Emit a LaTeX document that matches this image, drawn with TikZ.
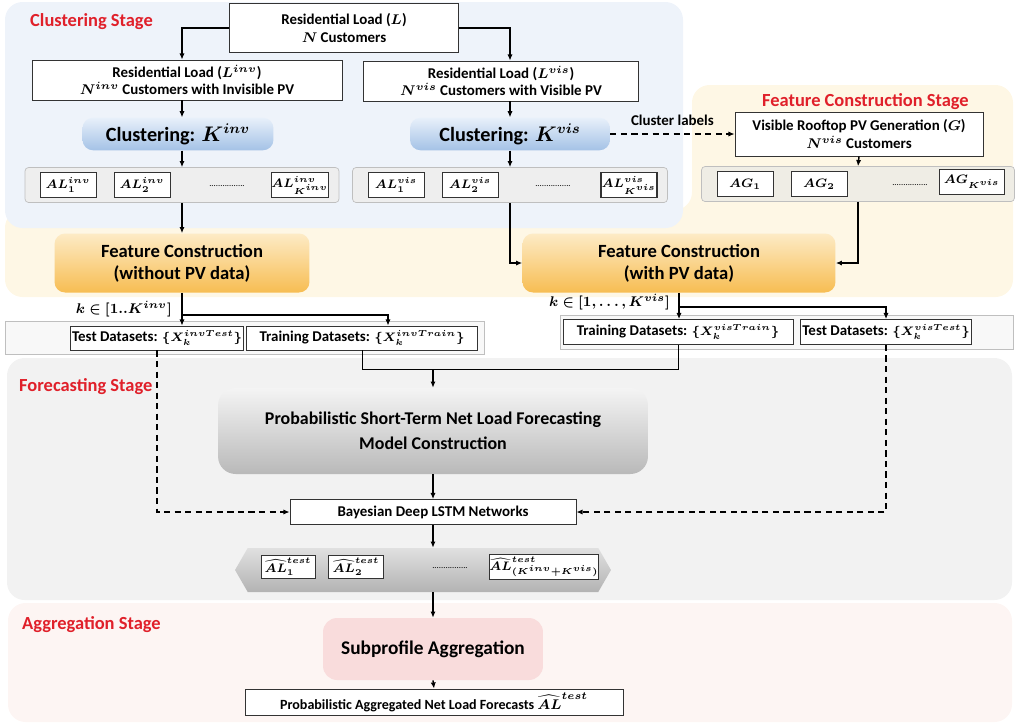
\documentclass[tikz,border=0pt]{standalone}
\usepackage{fontspec}
\setmainfont{Carlito}
\usepackage{amsmath}
\usepackage{bm}
\usepackage{xcolor}
\usetikzlibrary{arrows.meta,shapes.symbols,calc}

\definecolor{stagered}{HTML}{E0202A}
\definecolor{clubg}{HTML}{EEF3FA}
\definecolor{fcbg}{HTML}{FEF7E5}
\definecolor{forbg}{HTML}{F2F2F2}
\definecolor{aggbg}{HTML}{FDF5F3}
\definecolor{stripgray}{HTML}{EEEEEE}
\definecolor{agstrip}{HTML}{EFEDE5}
\definecolor{dsbg}{HTML}{F8F8F8}
\definecolor{cluTop}{HTML}{E8F0FA}
\definecolor{cluBot}{HTML}{A4C2E6}
\definecolor{fcTop}{HTML}{FDEBC6}
\definecolor{fcBot}{HTML}{F7BD52}
\definecolor{mdTop}{HTML}{F4F4F4}
\definecolor{mdBot}{HTML}{B9B9B9}
\definecolor{aggnode}{HTML}{F9DCDC}

% smaller bold math inside the dataset boxes
\newcommand{\smath}[1]{{\fontsize{7}{8}\selectfont$\bm{#1}$}}

\begin{document}
\begin{tikzpicture}[x=0.02cm, y=-0.02cm, font=\bfseries\fontsize{8.5}{10}\selectfont,
  box/.style={draw=black!80, fill=white, align=center, inner sep=1pt, line width=0.5pt},
  cell/.style={draw=black!80, fill=white, inner sep=0pt, minimum width=1.12cm, minimum height=0.5cm, font=\fontsize{7.5}{8}\selectfont},
  strip/.style={draw=black!25, fill=stripgray, rounded corners=2pt, minimum height=0.7cm},
  stage/.style={anchor=west, text=stagered, font=\bfseries\fontsize{10.5}{12}\selectfont},
  big/.style={rounded corners=6pt, align=center, font=\bfseries\fontsize{10.6}{12.5}\selectfont},
  dots/.style={font=\mdseries\fontsize{5}{6}\selectfont},
  arr/.style={-{Latex[length=3.5pt,width=3pt]}, line width=0.8pt},
  dsh/.style={arr, dash pattern=on 3.5pt off 2.5pt}]
\useasboundingbox (0,0) rectangle (1015,725);

% stage panels
\fill[fcbg, rounded corners=10pt] (692,85) -- (1013,85) -- (1013,297) -- (5,297) -- (5,210) -- (692,210) -- cycle;
\fill[clubg, rounded corners=10pt] (5,2) rectangle (683,228);
\fill[forbg, rounded corners=10pt] (7,358) rectangle (1012,600);
\fill[aggbg, rounded corners=10pt] (8,603) rectangle (1012,722);
\filldraw[draw=black!25, fill=dsbg] (5,321) rectangle (484,354);
\filldraw[draw=black!25, fill=dsbg] (560,315) rectangle (1013,349);

\node[stage] (lclu) at (24,22) {Clustering Stage};
\node[stage] (lfc) at (756,102) {Feature Construction Stage};
\node[stage] (lfor) at (13,387) {Forecasting Stage};
\node[stage] (lagg) at (16,625) {Aggregation Stage};

\coordinate (cl) at (182,0);
\coordinate (cr) at (510,0);

% clustering
\node[box, minimum width=4.58cm, minimum height=0.98cm] (rl) at (344,28) {Residential Load ($\bm{L}$)\\$\bm{N}$ Customers};
\node[box, minimum width=6.2cm, minimum height=0.8cm] (rlinv) at (187,80) {Residential Load ($\bm{L^{inv}}$)\\$\bm{N^{inv}}$ Customers with Invisible PV};
\node[box, minimum width=5.5cm, minimum height=0.8cm] (rlvis) at (501,81) {Residential Load ($\bm{L^{vis}}$)\\$\bm{N^{vis}}$ Customers with Visible PV};
\node[big, top color=cluTop, bottom color=cluBot, minimum width=3.82cm, minimum height=0.64cm, font=\bfseries\fontsize{11.5}{13}\selectfont] (clinv) at (178,134) {Clustering: $\bm{K^{inv}}$};
\node[big, top color=cluTop, bottom color=cluBot, minimum width=4cm, minimum height=0.64cm, font=\bfseries\fontsize{11.5}{13}\selectfont] (clvis) at (510,134) {Clustering: $\bm{K^{vis}}$};

\node[strip, minimum width=6.28cm] (alinv) at (182,185) {};
\node[cell] (alinv1) at (68,185) {$\bm{AL^{inv}_1}$};
\node[cell] (alinv2) at (142,185) {$\bm{AL^{inv}_2}$};
\node[dots] (alinvd) at (227,186) {................};
\node[cell, line width=0.8pt, font=\fontsize{7}{8}\selectfont] (alinvk) at (300,185) {$\bm{AL^{inv}_{K^{inv}}}$};

\node[strip, minimum width=6.3cm] (alvis) at (510,185) {};
\node[cell] (alvis1) at (396,185) {$\bm{AL^{vis}_1}$};
\node[cell] (alvis2) at (470,185) {$\bm{AL^{vis}_2}$};
\node[dots] (alvisd) at (553,186) {................};
\node[cell, line width=0.8pt, font=\fontsize{7}{8}\selectfont] (alvisk) at (629,185) {$\bm{AL^{vis}_{K^{vis}}}$};

% PV data
\node[box, minimum width=4.96cm, minimum height=0.88cm] (pvg) at (859,134) {Visible Rooftop PV Generation ($\bm{G}$)\\$\bm{N^{vis}}$ Customers};
\node[strip, fill=agstrip, minimum width=6.26cm] (agstrip) at (858,184) {};
\node[cell] (ag1) at (745,184) {$\bm{AG_1}$};
\node[cell] (ag2) at (819,184) {$\bm{AG_2}$};
\node[dots] (agd) at (910,185) {................};
\node[cell, minimum width=1.3cm, line width=0.8pt] (agk) at (972,182) {$\bm{AG_{K^{vis}}}$};

\node[big, top color=fcTop, bottom color=fcBot, minimum width=5.1cm, minimum height=1.18cm] (fcinv) at (182,263) {Feature Construction\\(without PV data)};
\node[big, top color=fcTop, bottom color=fcBot, minimum width=6.26cm, minimum height=1.18cm] (fcvis) at (679,263) {Feature Construction\\(with PV data)};

\draw[arr] (rl.west) -| (cl |- rlinv.north);
\draw[arr] (rl.east) -| (cr |- rlvis.north);
\draw[arr] (cl |- rlinv.south) -- (cl |- clinv.north);
\draw[arr] (cl |- clinv.south) -- (cl |- alinv.north);
\draw[arr] (cl |- alinv.south) -- (cl |- fcinv.north);
\draw[arr] (cr |- rlvis.south) -- (clvis.north);
\draw[arr] (clvis.south) -- (cr |- alvis.north);
\draw[arr] (cr |- alvis.south) |- (fcvis.west);
\draw[dsh] (clvis.east) -- node[above=1pt, font=\bfseries\fontsize{8.5}{10}\selectfont] (clab) {Cluster labels} (pvg.west);
\draw[arr] (pvg.south) -- (agstrip.north);
\draw[arr] (agstrip.south) |- (fcvis.east);

% datasets
\node[anchor=east, font=\fontsize{8}{9}\selectfont] (kinv) at (178,309) {$\bm{k\in[1..K^{inv}]}$};
\node[anchor=east, font=\fontsize{8}{9}\selectfont] (kvis) at (676,302) {$\bm{k\in[1,\ldots,K^{vis}]}$};
\node[box, minimum width=3.4cm, minimum height=0.48cm] (testinv) at (157,338) {Test Datasets: \smath{\{X^{invTest}_k\}}};
\node[box, minimum width=4.62cm, minimum height=0.48cm] (traininv) at (362,338) {Training Datasets: \smath{\{X^{invTrain}_k\}}};
\node[box, minimum width=4.6cm, minimum height=0.5cm] (trainvis) at (678,332) {Training Datasets: \smath{\{X^{visTrain}_k\}}};
\node[box, minimum width=3.38cm, minimum height=0.5cm] (testvis) at (886,332) {Test Datasets: \smath{\{X^{visTest}_k\}}};

\coordinate (bl) at (182,315);
\coordinate (tl) at (388,0);
\coordinate (br) at (680,307);
\coordinate (jn) at (433,369);
\draw[arr] (fcinv.south) -- (cl |- testinv.north);
\draw[arr] (bl) -| (tl |- traininv.north);
\draw[arr] (fcvis.south) -- (fcvis.south |- trainvis.north);
\draw[arr] (br) -| (testvis.north);

% forecasting
\node[big, top color=mdTop, bottom color=mdBot, minimum width=8.6cm, minimum height=1.72cm, rounded corners=10pt, font=\bfseries\fontsize{10.2}{14}\selectfont] (model) at (433,431) {Probabilistic Short-Term Net Load Forecasting\\Model Construction};
\node[box, minimum width=5.72cm, minimum height=0.5cm] (bdl) at (433,512) {Bayesian Deep LSTM Networks};
\node[shape=signal, signal to=west and east, signal pointer angle=120, top color=black!12, bottom color=black!30, minimum width=7.52cm, minimum height=0.88cm, inner sep=0pt] (alt) at (423,570) {};
\node[cell, minimum width=1.08cm, minimum height=0.46cm] (alt1) at (288,567) {$\bm{\widehat{AL}^{test}_1}$};
\node[cell, minimum width=1.1cm, minimum height=0.46cm] (alt2) at (356,567) {$\bm{\widehat{AL}^{test}_2}$};
\node[dots] (altd) at (450,568) {................};
\node[cell, minimum width=1.76cm, minimum height=0.5cm, line width=0.8pt, font=\fontsize{7}{8}\selectfont] (altk) at (544,567) {$\bm{\widehat{AL}^{test}_{(K^{inv}+K^{vis})}}$};

\draw (traininv.south) |- (jn);
\draw (trainvis.south) |- (jn);
\draw[arr] (jn) -- (model.north);
\draw[dsh] (testinv.south) |- (bdl.west);
\draw[dsh] (testvis.south) |- (bdl.east);
\draw[arr] (model.south) -- (bdl.north);
\draw[arr] (bdl.south) -- (bdl.south |- alt.north);

% aggregation
\node[big, fill=aggnode, minimum width=4.4cm, minimum height=1.24cm, rounded corners=8pt, font=\bfseries\fontsize{11}{13}\selectfont] (sagg) at (433,649) {Subprofile Aggregation};
\node[box, minimum width=7.56cm, minimum height=0.52cm, font=\bfseries\fontsize{8}{10}\selectfont] (final) at (434,702) {Probabilistic Aggregated Net Load Forecasts $\bm{\widehat{AL}^{test}}$};
\draw[arr] (bdl.south |- alt.south) -- (sagg.north);
\draw[arr] (sagg.south) -- (final.north);
\end{tikzpicture}
\end{document}
